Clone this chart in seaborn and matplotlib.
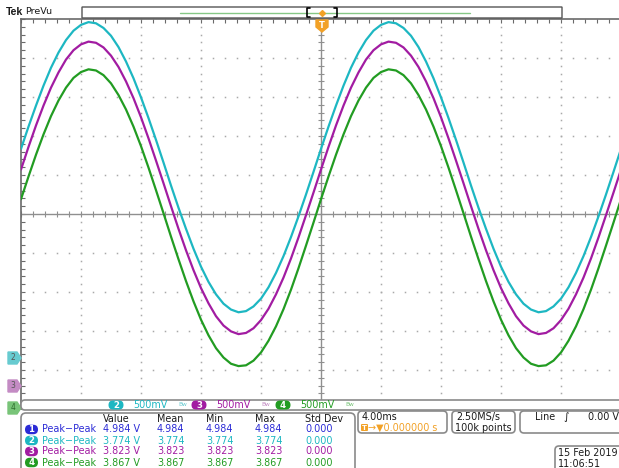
import numpy as np
import pandas as pd
import matplotlib
matplotlib.use("Agg")
import matplotlib.pyplot as plt
import seaborn as sns
from matplotlib.patches import FancyBboxPatch, Polygon

sns.set_style("white")
plt.rcParams['font.family'] = ['DejaVu Sans']

# trace samples, 0.5 ms apart (4 ms/div), vertical position in divisions
time_ms = [-20.0, -19.5, -19.0, -18.5, -18.0, -17.5, -17.0, -16.5, -16.0, -15.5,
           -15.0, -14.5, -14.0, -13.5, -13.0, -12.5, -12.0, -11.5, -11.0, -10.5,
           -10.0, -9.5, -9.0, -8.5, -8.0, -7.5, -7.0, -6.5, -6.0, -5.5,
           -5.0, -4.5, -4.0, -3.5, -3.0, -2.5, -2.0, -1.5, -1.0, -0.5,
           0.0, 0.5, 1.0, 1.5, 2.0, 2.5, 3.0, 3.5, 4.0, 4.5,
           5.0, 5.5, 6.0, 6.5, 7.0, 7.5, 8.0, 8.5, 9.0, 9.5,
           10.0, 10.5, 11.0, 11.5, 12.0, 12.5, 13.0, 13.5, 14.0, 14.5,
           15.0, 15.5, 16.0, 16.5, 17.0, 17.5, 18.0, 18.5, 19.0, 19.5, 20.0]
ch2_div = [1.67, 2.24, 2.78, 3.29, 3.75, 4.14, 4.46, 4.70, 4.85, 4.92,
           4.89, 4.77, 4.57, 4.28, 3.91, 3.48, 2.99, 2.46, 1.90, 1.32,
           0.73, 0.16, -0.38, -0.89, -1.35, -1.74, -2.06, -2.30, -2.45, -2.52,
           -2.49, -2.37, -2.17, -1.88, -1.51, -1.08, -0.59, -0.06, 0.50, 1.08,
           1.67, 2.24, 2.78, 3.29, 3.75, 4.14, 4.46, 4.70, 4.85, 4.92,
           4.89, 4.77, 4.57, 4.28, 3.91, 3.48, 2.99, 2.46, 1.90, 1.32,
           0.73, 0.16, -0.38, -0.89, -1.35, -1.74, -2.06, -2.30, -2.45, -2.52,
           -2.49, -2.37, -2.17, -1.88, -1.51, -1.08, -0.59, -0.06, 0.50, 1.08, 1.67]
ch3_div = [1.14, 1.72, 2.27, 2.78, 3.24, 3.63, 3.96, 4.20, 4.35, 4.42,
           4.39, 4.27, 4.06, 3.77, 3.40, 2.97, 2.48, 1.94, 1.37, 0.79,
           0.20, -0.38, -0.93, -1.44, -1.90, -2.29, -2.62, -2.86, -3.01, -3.08,
           -3.05, -2.93, -2.72, -2.43, -2.06, -1.63, -1.14, -0.60, -0.03, 0.55,
           1.14, 1.72, 2.27, 2.78, 3.24, 3.63, 3.96, 4.20, 4.35, 4.42,
           4.39, 4.27, 4.06, 3.77, 3.40, 2.97, 2.48, 1.94, 1.37, 0.79,
           0.20, -0.38, -0.93, -1.44, -1.90, -2.29, -2.62, -2.86, -3.01, -3.08,
           -3.05, -2.93, -2.72, -2.43, -2.06, -1.63, -1.14, -0.60, -0.03, 0.55, 1.14]
ch4_div = [0.38, 0.96, 1.52, 2.04, 2.51, 2.91, 3.24, 3.49, 3.64, 3.71,
           3.68, 3.56, 3.35, 3.05, 2.68, 2.24, 1.74, 1.19, 0.61, 0.02,
           -0.58, -1.16, -1.72, -2.24, -2.71, -3.11, -3.44, -3.68, -3.84, -3.90,
           -3.88, -3.76, -3.55, -3.25, -2.88, -2.44, -1.94, -1.39, -0.81, -0.22,
           0.38, 0.96, 1.52, 2.04, 2.51, 2.91, 3.24, 3.49, 3.64, 3.71,
           3.68, 3.56, 3.35, 3.05, 2.68, 2.24, 1.74, 1.19, 0.61, 0.02,
           -0.58, -1.16, -1.72, -2.24, -2.71, -3.11, -3.44, -3.68, -3.84, -3.90,
           -3.88, -3.76, -3.55, -3.25, -2.88, -2.44, -1.94, -1.39, -0.81, -0.22, 0.38]

# readouts
shown_channels = ['2', '3', '4']
channel_scale = ['500mV', '500mV', '500mV']
meas_channels = ['1', '2', '3', '4']
meas_value = ['4.984', '3.774', '3.823', '3.867']
meas_std = ['0.000', '0.000', '0.000', '0.000']
meas_headers = ['Value', 'Mean', 'Min', 'Max', 'Std Dev']
timebase = '4.00ms'
trig_pos = '0.000000 s'
sample_rate = '2.50MS/s'
record_len = '100k points'
trig_source = 'Line'
trig_level = '0.00 V'
date_str = '15 Feb 2019'
time_str = '11:06:51'

colors = {'1': '#2b2bd6', '2': '#1db7c2', '3': '#a21ca2', '4': '#229c22'}
light = {'2': '#67cbd0', '3': '#c48bc4', '4': '#78c478'}
orange = '#f2a126'
frame = '#8a8a8a'
FS = 6.9

W, H = 619, 468
fig = plt.figure(figsize=(W / 100, H / 100), dpi=100)

# graticule area in pixels
gl, gt, gw, gh = 21, 19, 600, 390
ax = fig.add_axes([gl / W, 1 - (gt + gh) / H, gw / W, gh / H])
ax.set_xlim(-20, 20)
ax.set_ylim(-5, 5)

grid_c = '#a9a9a9'
ys = np.arange(-5, 5.01, 0.2)
xs = np.arange(-20, 20.01, 0.8)
for gx in [-16, -12, -8, -4, 4, 8, 12, 16]:
    ax.plot([gx] * len(ys), ys, ls='none', marker='s', ms=1.1, mew=0, color=grid_c)
for gy in [-4, -3, -2, -1, 1, 2, 3, 4]:
    ax.plot(xs, [gy] * len(xs), ls='none', marker='s', ms=1.1, mew=0, color=grid_c)

ax.axhline(0, color='#8f8f8f', lw=1)
ax.axvline(0, color='#8f8f8f', lw=1)
ax.plot(xs, [0] * len(xs), ls='none', marker='|', ms=4, mew=0.8, color='#8f8f8f')
ax.plot([0] * len(ys), ys, ls='none', marker='_', ms=4, mew=0.8, color='#8f8f8f')

traces = pd.DataFrame({'t': time_ms * 3,
                       'pos': ch2_div + ch3_div + ch4_div,
                       'ch': ['2'] * len(time_ms) + ['3'] * len(time_ms) + ['4'] * len(time_ms)})
for ch in shown_channels:
    d = traces[traces['ch'] == ch]
    sns.lineplot(data=d, x='t', y='pos', ax=ax, color=colors[ch], linewidth=1.6,
                 estimator=None, zorder=3)

for s in ['bottom', 'right']:
    ax.spines[s].set_visible(False)
for s in ['left', 'top']:
    ax.spines[s].set_color('#6a6a6a')
    ax.spines[s].set_linewidth(1.2)
ax.set_xticks(xs)
ax.set_yticks(ys)
ax.tick_params(axis='x', direction='in', top=True, bottom=False, length=3,
               color='#6a6a6a', labelbottom=False)
ax.tick_params(axis='y', direction='in', left=True, right=False, length=3,
               color='#6a6a6a', labelleft=False)
ax.set_xlabel('')
ax.set_ylabel('')

# overlay in pixel coordinates for the scope readouts
ov = fig.add_axes([0, 0, 1, 1])
ov.set_xlim(0, W)
ov.set_ylim(H, 0)
ov.axis('off')


def box(x0, y0, x1, y1, r=4, ec=frame, fc='white', lw=1.0):
    ov.add_patch(FancyBboxPatch((x0, y0), x1 - x0, y1 - y0,
                                boxstyle=f"round,pad=0,rounding_size={r}",
                                ec=ec, fc=fc, lw=lw))


def pill(cx, cy, num, color, w=14, h=10):
    box(cx - w / 2, cy - h / 2, cx + w / 2, cy + h / 2, r=h / 2, ec=color, fc=color, lw=0)
    ov.text(cx, cy, num, color='white', fontsize=6.2, fontweight='bold',
            ha='center', va='center')


def txt(x, y, s, color='#1a1a1a', size=FS, **kw):
    ov.text(x, y, s, color=color, fontsize=size, ha='left', va='center', **kw)


# header
txt(6, 12, 'Tek', size=7.6, fontweight='bold', family=['Liberation Sans', 'DejaVu Sans'])
txt(25, 12, 'PreVu', size=6.8)
box(82, 7, 562, 18, r=0, ec='#555555', lw=1)
ov.plot([180, 470], [12.5, 12.5], color='#86c886', lw=1)
ov.plot([310, 307, 307, 310], [8, 8, 17, 17], color='black', lw=1.2)
ov.plot([334, 337, 337, 334], [8, 8, 17, 17], color='black', lw=1.2)
ov.plot([322], [12.5], marker='D', ms=3, color=orange)
ov.add_patch(Polygon([(316, 20), (328, 20), (328, 27), (322, 32), (316, 27)],
                     closed=True, fc=orange, ec=orange))
ov.text(322, 25, 'T', color='white', fontsize=6, fontweight='bold', ha='center', va='center')

# ground markers
for num, y in zip(shown_channels, [358, 386, 408]):
    ov.add_patch(Polygon([(8, y - 6), (17, y - 6), (21, y), (17, y + 6), (8, y + 6)],
                         closed=True, fc=light[num], ec=light[num]))
    ov.text(13, y, num, color='#555555' if num != '4' else '#2d6d2d', fontsize=5.5,
            ha='center', va='center')

# channel bar
box(21, 400, 650, 410, r=4, lw=1.2)
for num, scale, x0 in zip(shown_channels, channel_scale, [116, 199, 283]):
    pill(x0, 405, num, colors[num], w=15, h=9)
    txt(x0 + 17, 405, scale, color=colors[num])
    txt(x0 + 62, 404, 'Bw', color=light[num], size=4.2)

# measurement table
box(21, 413, 355, 485, r=5, lw=1.2)
for head, x0 in zip(meas_headers, [103, 157, 206, 255, 305]):
    txt(x0, 419, head)
for i, (num, val, sd) in enumerate(zip(meas_channels, meas_value, meas_std)):
    y = 429.5 + i * 11
    c = colors[num]
    pill(31.5, y, num, c, w=13, h=9.5)
    txt(42, y, 'Peak\u2212Peak', color=c)
    txt(103, y, val + ' V', color=c)
    txt(157, y, val, color=c)
    txt(206, y, val, color=c)
    txt(255, y, val, color=c)
    txt(305, y, sd, color=c)

# timebase / acquisition / trigger / date boxes
box(358, 411, 447, 433, r=4, lw=1.2)
txt(362, 417, timebase)
box(361, 424, 368, 431, r=1, ec=orange, fc=orange, lw=0)
ov.text(364.5, 427.5, 'T', color='white', fontsize=5, fontweight='bold', ha='center', va='center')
txt(368, 428, '\u2192\u25bc' + trig_pos, color=orange)

box(452, 411, 515, 433, r=4, lw=1.2)
txt(456, 417, sample_rate)
txt(455, 428, record_len)

box(520, 411, 660, 433, r=4, lw=1.2)
txt(535, 417, trig_source)
txt(563, 417, '\u222b', size=7.5)
txt(588, 417, trig_level)

box(555, 446, 660, 475, r=4, lw=1.2)
txt(558, 453, date_str)
txt(558, 464, time_str)

fig.savefig('out.png', dpi=100)
